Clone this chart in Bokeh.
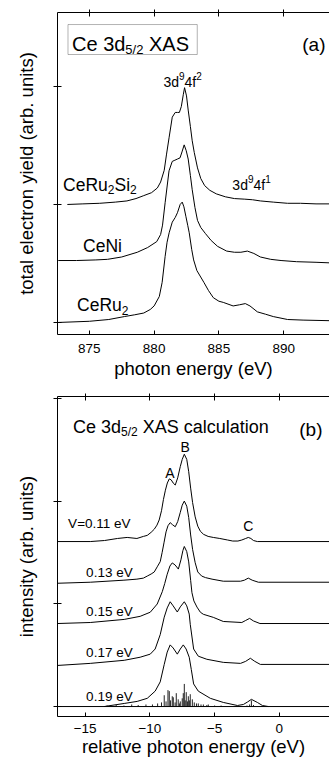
from bokeh.plotting import figure
from bokeh.models import LinearAxis, Range1d, Label, BoxAnnotation, Span, FixedTicker
from bokeh.layouts import column
from bokeh.embed import file_html
from bokeh.resources import INLINE

FONT = "Liberation Sans"

# ---------------- data: panel (a) experiment ----------------
a_xticks = [875, 880, 885, 890]
a_yticks = [0, 1, 2]
a_offsets = {"CeRu2Si2": 1.0, "CeNi": 0.525, "CeRu2": 0.0}

ceru2si2_e = [873.3, 874.5, 875.8, 877.0, 877.9, 878.6, 879.2, 879.8, 880.25, 880.5, 880.78, 880.95,
              881.16, 881.4, 881.63, 881.8, 881.95, 882.1, 882.25, 882.35, 882.5, 882.63, 882.8, 882.94,
              883.1, 883.35, 883.6, 883.9, 884.3, 884.8, 885.5, 886.2, 887.0, 887.6, 888.2, 889.2,
              890.3, 891.3, 892.5, 893.6]
ceru2si2_v = [0.0, 0.005, 0.01, 0.02, 0.03, 0.05, 0.075, 0.1, 0.14, 0.19, 0.29, 0.42,
              0.57, 0.74, 0.78, 0.78, 0.78, 0.83, 0.93, 0.99, 0.92, 0.8, 0.66, 0.54,
              0.44, 0.31, 0.22, 0.16, 0.12, 0.09, 0.065, 0.05, 0.045, 0.04, 0.03, 0.02,
              0.01, 0.01, 0.005, 0.005]

ceni_e = [872.6, 874.0, 875.5, 876.4, 877.5, 878.7, 879.5, 880.2, 880.5, 880.65, 880.85, 881.15,
          881.4, 881.6, 881.8, 882.0, 882.15, 882.32, 882.48, 882.63, 882.8, 882.94, 883.15, 883.35,
          883.6, 883.95, 884.4, 884.9, 885.6, 886.2, 886.7, 887.2, 887.7, 888.2, 889.0, 889.8,
          891.0, 892.5, 893.6]
ceni_v = [0.0, 0.0, 0.005, 0.01, 0.03, 0.07, 0.11, 0.16, 0.22, 0.3, 0.49, 0.76,
          0.84, 0.85, 0.86, 0.87, 0.92, 0.98, 0.93, 0.86, 0.72, 0.6, 0.45, 0.34,
          0.28, 0.23, 0.17, 0.12, 0.08, 0.07, 0.07, 0.08, 0.06, 0.03, 0.01, 0.0,
          -0.01, -0.015, -0.02]

ceru2_e = [872.6, 875.0, 876.5, 877.7, 878.5, 879.2, 879.7, 880.0, 880.4, 880.62, 880.85, 881.0,
           881.16, 881.4, 881.63, 881.8, 882.01, 882.17, 882.3, 882.45, 882.6, 882.71, 882.9, 883.05,
           883.3, 883.84, 884.2, 884.57, 885.0, 885.34, 886.1, 886.6, 887.04, 887.4, 887.97, 888.6,
           889.2, 890.3, 891.5, 893.6]
ceru2_v = [0.0, 0.01, 0.025, 0.05, 0.065, 0.08, 0.11, 0.14, 0.22, 0.34, 0.56, 0.68,
           0.76, 0.85, 0.89, 0.93, 1.0, 1.02, 0.98, 0.9, 0.82, 0.76, 0.62, 0.53,
           0.44, 0.34, 0.27, 0.21, 0.18, 0.17, 0.14, 0.15, 0.16, 0.14, 0.09, 0.07,
           0.05, 0.025, 0.02, 0.015]

# ---------------- data: panel (b) calculation ----------------
b_xticks = [-15, -10, -5, 0]
b_yticks = [0, 1, 2, 3]
b_offsets = {"0.11": 1.606, "0.13": 1.20, "0.15": 0.808, "0.17": 0.40, "0.19": 0.0}

v011_x = [-17.13, -14.6, -13.5, -12.5, -11.75, -11.0, -10.5, -10.2, -9.9, -9.66, -9.45, -9.28, -9.1,
          -8.95, -8.8, -8.65, -8.5, -8.35, -8.2, -8.04, -7.85, -7.65, -7.5, -7.34, -7.15, -7.0,
          -6.85, -6.7, -6.5, -6.3, -6.1, -5.85, -5.5, -5.1, -4.6, -4.0, -3.6, -3.2, -2.9, -2.6,
          -2.4, -2.2, -2.0, -1.7, 3.87]
v011_v = [0.0, 0.0, 0.01, 0.03, 0.04, 0.03, 0.05, 0.06, 0.09, 0.12, 0.16, 0.21, 0.3,
          0.41, 0.5, 0.57, 0.61, 0.6, 0.57, 0.55, 0.62, 0.73, 0.8, 0.85, 0.8, 0.68,
          0.52, 0.38, 0.24, 0.15, 0.1, 0.07, 0.05, 0.04, 0.03, 0.015, 0.005, 0.005, 0.015, 0.03,
          0.04, 0.03, 0.01, 0.0, 0.0]

v013_x = [-17.13, -14.6, -12.0, -11.0, -10.5, -10.2, -9.9, -9.66, -9.43, -9.2, -9.05, -8.9, -8.75,
          -8.6, -8.43, -8.25, -8.04, -7.85, -7.65, -7.5, -7.34, -7.15, -7.0, -6.85, -6.7, -6.5,
          -6.3, -6.0, -5.7, -5.2, -4.33, -3.0, -2.7, -2.4, -2.1, -1.62, 3.87]
v013_v = [0.0, 0.01, 0.03, 0.04, 0.05, 0.07, 0.09, 0.11, 0.16, 0.21, 0.3, 0.4, 0.5,
          0.56, 0.59, 0.57, 0.55, 0.6, 0.69, 0.76, 0.8, 0.75, 0.64, 0.47, 0.33, 0.2,
          0.11, 0.07, 0.055, 0.04, 0.02, 0.02, 0.03, 0.05, 0.03, 0.01, 0.01]

v015_x = [-17.13, -14.6, -11.98, -10.75, -9.97, -9.43, -9.04, -8.85, -8.66, -8.45, -8.27, -8.05, -7.8,
          -7.6, -7.45, -7.34, -7.15, -7.0, -6.85, -6.75, -6.6, -6.36, -6.1, -5.87, -5.1, -4.33,
          -2.9, -2.6, -2.3, -2.0, -1.5, 3.87]
v015_v = [0.0, 0.01, 0.04, 0.07, 0.11, 0.19, 0.31, 0.39, 0.48, 0.56, 0.59, 0.57, 0.53,
          0.62, 0.71, 0.75, 0.7, 0.6, 0.42, 0.3, 0.22, 0.16, 0.11, 0.09, 0.06, 0.02,
          0.01, 0.03, 0.05, 0.025, 0.0, 0.0]

v017_x = [-17.13, -14.6, -11.98, -10.75, -9.97, -9.59, -9.2, -8.89, -8.66, -8.43, -8.2, -7.88, -7.65,
          -7.34, -7.15, -6.96, -6.88, -6.62, -6.26, -5.6, -4.33, -3.0, -2.6, -2.24, -1.9, -1.47, 3.87]
v017_v = [0.0, 0.02, 0.05, 0.08, 0.11, 0.16, 0.3, 0.47, 0.56, 0.62, 0.58, 0.52, 0.57,
          0.62, 0.58, 0.5, 0.4, 0.16, 0.09, 0.06, 0.03, 0.02, 0.04, 0.07, 0.04, 0.01, 0.01]

v019_x = [-13.53, -11.98, -10.98, -10.2, -9.59, -9.2, -8.89, -8.66, -8.43, -8.2, -7.88, -7.65, -7.42,
          -7.2, -6.96, -6.8, -6.62, -6.26, -5.33, -4.33, -3.24, -2.78, -2.45, -2.16, -1.7, -1.31, -0.85]
v019_v = [0.0, 0.03, 0.05, 0.08, 0.15, 0.24, 0.41, 0.53, 0.6, 0.57, 0.51, 0.56, 0.6,
          0.56, 0.48, 0.36, 0.22, 0.15, 0.08, 0.04, 0.01, 0.02, 0.045, 0.07, 0.04, 0.01, 0.0]

stick_x = [-13.3, -12.6, -12.0, -11.4, -10.9, -10.3, -9.8, -9.4, -9.1, -8.89, -8.75, -8.6, -8.5, -8.4,
           -8.27, -8.19, -8.05, -7.96, -7.81, -7.72, -7.65, -7.5, -7.42, -7.34, -7.27, -7.19, -7.1,
           -7.03, -6.95, -6.88, -6.72, -6.57, -6.4, -6.26, -6.05, -5.87, -5.6, -5.49, -5.0, -4.5,
           -2.5, -2.3, -2.16, -2.0, -1.4]
stick_h = [0.01, 0.015, 0.01, 0.02, 0.015, 0.02, 0.02, 0.03, 0.04, 0.11, 0.05, 0.16, 0.15, 0.06,
           0.1, 0.09, 0.04, 0.13, 0.07, 0.03, 0.05, 0.08, 0.13, 0.22, 0.06, 0.14, 0.05,
           0.1, 0.06, 0.12, 0.07, 0.04, 0.03, 0.03, 0.02, 0.02, 0.015, 0.02, 0.01, 0.01,
           0.01, 0.02, 0.06, 0.015, 0.005]

# ---------------- helpers ----------------
WID = {' ': 278, '(': 333, ')': 333, '.': 278, '/': 278, '=': 584, 'A': 667, 'B': 667, 'C': 722,
       'S': 667, 'V': 667, 'X': 667, 'N': 722, 'R': 722, 'a': 556, 'b': 556, 'c': 500, 'd': 556,
       'e': 556, 'f': 278, 'g': 556, 'i': 222, 'l': 222, 'n': 556, 'o': 556, 'r': 333, 's': 500,
       't': 278, 'u': 556, 'y': 500, 'h': 556, 'p': 556, 'v': 500, 'm': 833}


def tw(s, size):
    return sum(WID.get(c, 556) for c in s) * size / 1000.0


def rich(p, x, y, parts, align="left"):
    total = sum(tw(t, s) for t, s, d in parts)
    off = {"left": 0.0, "right": -total, "center": -total / 2}[align]
    for t, s, dy in parts:
        stripped = t.lstrip(" ")
        lead = tw(t[:len(t) - len(stripped)], s)
        p.add_layout(Label(x=x, y=y, x_offset=off + lead, y_offset=dy, text=stripped,
                           text_font=FONT, text_font_size=f"{s}px", text_color="black",
                           text_baseline="alphabetic", text_align="left"))
        off += tw(t, s)


def make_fig(xr, yr, frame_h, btop, xticks, yticks, xlabel, ylabel, lab_standoff, ax_standoff):
    p = figure(frame_width=272, frame_height=frame_h, x_range=Range1d(*xr), y_range=Range1d(*yr),
               output_backend="svg", toolbar_location=None,
               x_axis_location=None, y_axis_location=None,
               min_border_left=57, min_border_right=0, min_border_top=btop, min_border_bottom=0)
    p.outline_line_color = None
    p.background_fill_color = "white"
    p.border_fill_color = "white"
    for g in p.grid:
        g.visible = False

    below = LinearAxis(ticker=FixedTicker(ticks=xticks), axis_label=xlabel)
    below.major_tick_in = 4
    below.major_tick_out = 0
    below.minor_tick_line_color = None
    below.major_label_text_font = FONT
    below.major_label_text_font_size = "13.5px"
    below.major_label_text_color = "black"
    below.major_label_standoff = lab_standoff
    below.axis_label_text_font = FONT
    below.axis_label_text_font_size = "18.5px"
    below.axis_label_text_font_style = "normal"
    below.axis_label_text_color = "black"
    below.axis_label_standoff = ax_standoff
    below.axis_line_color = "black"
    below.major_tick_line_color = "black"
    p.add_layout(below, "below")

    above = LinearAxis(ticker=FixedTicker(ticks=xticks))
    above.major_tick_in = 4
    above.major_tick_out = 3
    above.minor_tick_line_color = None
    above.major_label_text_font_size = "0px"
    above.major_label_overrides = {t: "" for t in xticks}
    above.major_label_standoff = 0
    above.axis_line_color = "black"
    above.major_tick_line_color = "black"
    p.add_layout(above, "above")

    left = LinearAxis(ticker=FixedTicker(ticks=yticks), axis_label=ylabel)
    left.major_tick_in = 4
    left.major_tick_out = 4
    left.minor_tick_line_color = None
    left.major_label_text_font_size = "0px"
    left.major_label_overrides = {t: "" for t in yticks}
    left.major_label_standoff = 0
    left.axis_label_text_font = FONT
    left.axis_label_text_font_size = "18.5px"
    left.axis_label_text_font_style = "normal"
    left.axis_label_text_color = "black"
    left.axis_label_standoff = 17
    left.axis_line_color = "black"
    left.major_tick_line_color = "black"
    p.add_layout(left, "left")
    return p


# ---------------- panel (a) ----------------
pa = make_fig((872.54, 893.54), (-0.102, 2.627), 322, 12, a_xticks, a_yticks,
              "photon energy (eV)", "total electron yield (arb. units)", 9, 2)

for ex, vy, off in [(ceru2si2_e, ceru2si2_v, a_offsets["CeRu2Si2"]),
                    (ceni_e, ceni_v, a_offsets["CeNi"]),
                    (ceru2_e, ceru2_v, a_offsets["CeRu2"])]:
    pa.line(ex, [v + off for v in vy], line_color="black", line_width=1)

pa.add_layout(BoxAnnotation(left=873.35, right=883.33, top=2.525, bottom=2.271,
                            fill_alpha=0, line_color="black", line_width=1))
rich(pa, 873.66, 2.356, [("Ce 3d", 20, 0), ("5/2", 13, -5), (" XAS", 20, 0)])
rich(pa, 893.23, 2.356, [("(a)", 19, 0)], align="right")
rich(pa, 880.72, 2.034, [("3d", 14, 0), ("9", 10, 6), ("4f", 14, 0), ("2", 10, 6)])
rich(pa, 886.04, 1.169, [("3d", 14, 0), ("9", 10, 6), ("4f", 14, 0), ("1", 10, 6)])
rich(pa, 872.97, 1.169, [("CeRu", 17.5, 0), ("2", 12, -5), ("Si", 17.5, 0), ("2", 12, -5)])
rich(pa, 874.51, 0.644, [("CeNi", 17.5, 0)])
rich(pa, 874.05, 0.144, [("CeRu", 17.5, 0), ("2", 12, -5)])

# ---------------- panel (b) ----------------
pb = make_fig((-17.13, 3.87), (-0.097, 3.018), 320, 15, b_xticks, b_yticks,
              "relative photon energy (eV)", "intensity (arb. units)", 7, 0)

pb.add_layout(Span(location=0, dimension="width", line_color="black", line_width=1))
pb.segment(x0=stick_x, y0=[0] * len(stick_x), x1=stick_x, y1=stick_h, line_color="#222222", line_width=1)

for xs, vs, key in [(v011_x, v011_v, "0.11"), (v013_x, v013_v, "0.13"), (v015_x, v015_v, "0.15"),
                    (v017_x, v017_v, "0.17"), (v019_x, v019_v, "0.19")]:
    pb.line(xs, [v + b_offsets[key] for v in vs], line_color="black", line_width=1)

rich(pb, -15.93, 2.717, [("Ce 3d", 18, 0), ("5/2", 12, -5), (" XAS calculation", 18, 0)])
rich(pb, 3.33, 2.697, [("(b)", 19, 0)], align="right")
rich(pb, -8.45, 2.278, [("A", 14, 0)], align="center")
rich(pb, -7.27, 2.522, [("B", 14, 0)], align="center")
rich(pb, -2.39, 1.753, [("C", 14, 0)], align="center")
rich(pb, -16.31, 1.782, [("V=0.11 eV", 13.5, 0)])
rich(pb, -14.92, 1.305, [("0.13 eV", 13.5, 0)])
rich(pb, -14.92, 0.925, [("0.15 eV", 13.5, 0)])
rich(pb, -14.92, 0.526, [("0.17 eV", 13.5, 0)])
rich(pb, -14.92, 0.097, [("0.19 eV", 13.5, 0)])

layout = column(pa, pb, spacing=0)
open("out.html", "w").write(file_html(layout, INLINE))
